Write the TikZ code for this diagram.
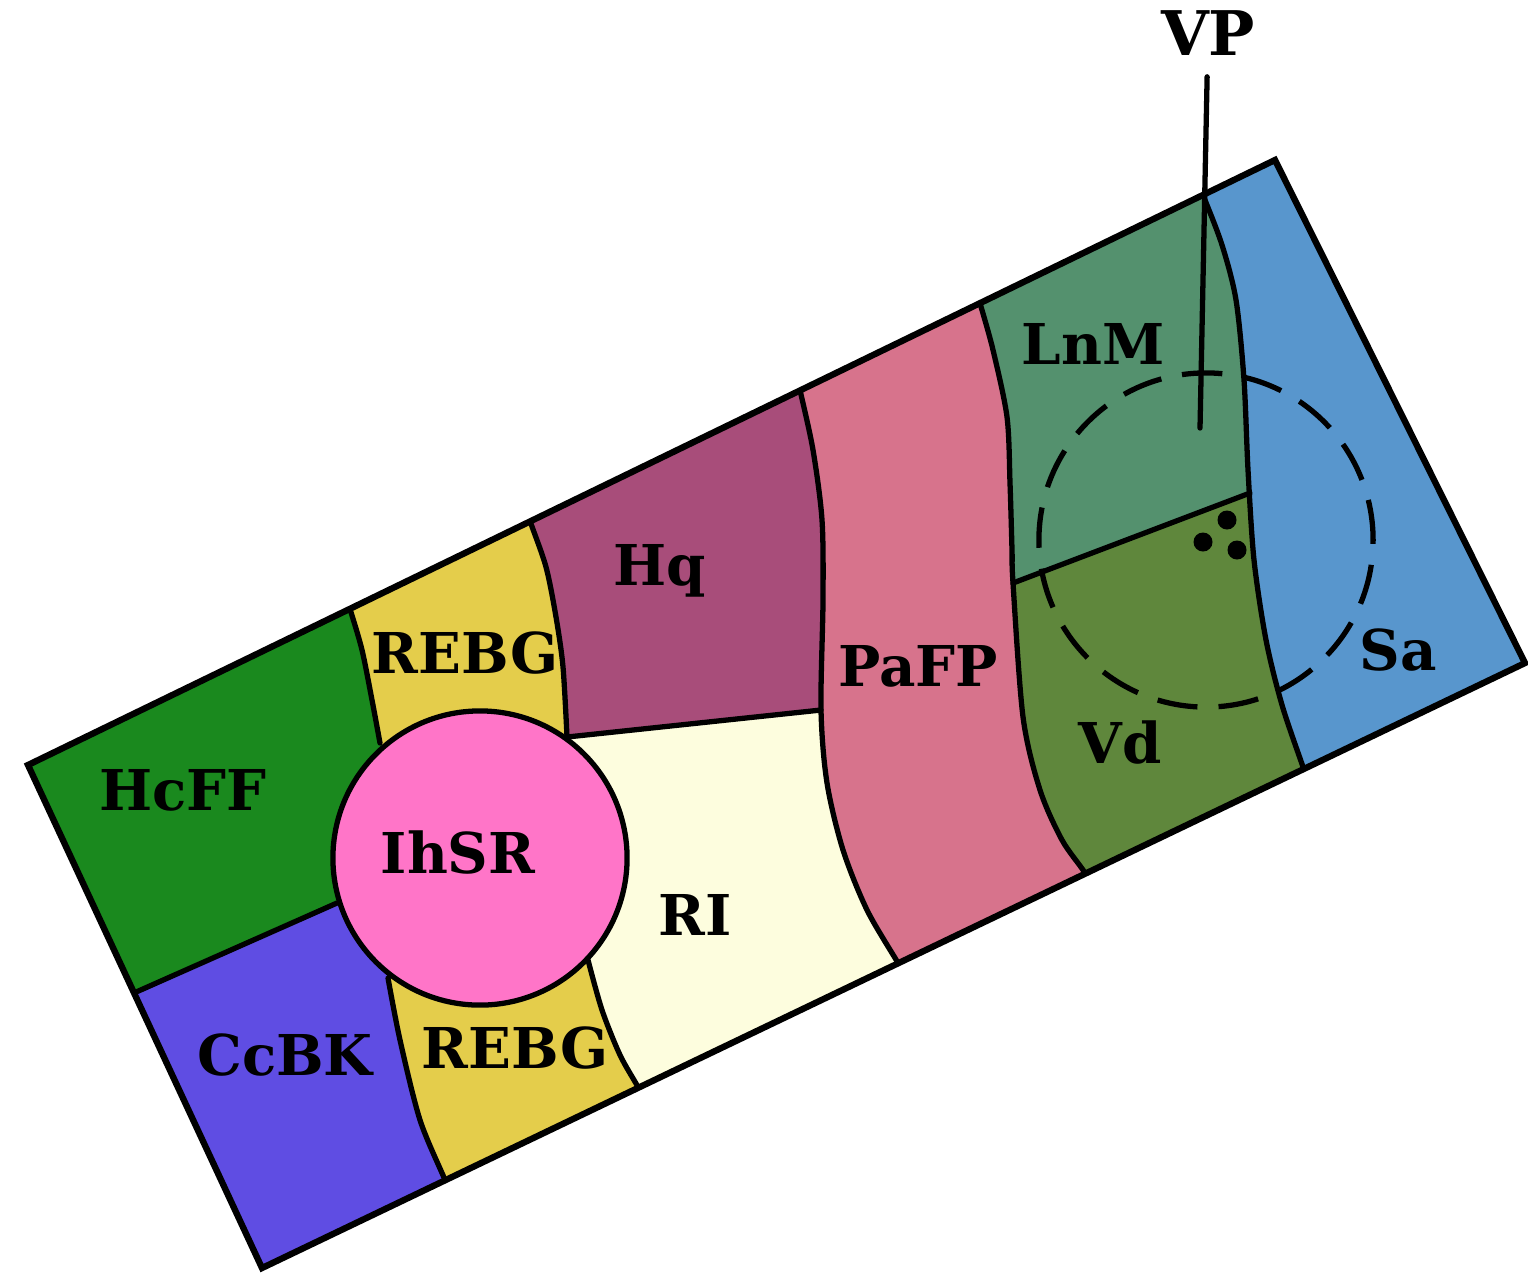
\documentclass[tikz,border=0pt]{standalone}
\usepackage{fontspec}
\setmainfont{DejaVu Serif}
\usepackage{tikz}
\usetikzlibrary{positioning}

\definecolor{grassgreen}{RGB}{26,137,30}
\definecolor{violetblue}{RGB}{95,77,227}
\definecolor{mustard}{RGB}{228,205,75}
\definecolor{candypink}{RGB}{255,117,200}
\definecolor{plum}{RGB}{168,77,122}
\definecolor{cream}{RGB}{253,253,222}
\definecolor{rosepink}{RGB}{215,115,140}
\definecolor{sage}{RGB}{84,145,110}
\definecolor{olive}{RGB}{95,135,60}
\definecolor{skyblue}{RGB}{88,150,205}

\begin{document}
\begin{tikzpicture}[x=0.01cm, y=-0.01cm,
    boundary/.style={line width=1.5pt, line join=round, line cap=round},
    rim/.style={line width=1.8pt, line join=miter},
    area/.style={font=\fontsize{16}{19}\selectfont\bfseries, anchor=base, inner sep=1pt}]
    \useasboundingbox (0,0) rectangle (1528,1287);

    % Corners of the strip
    \coordinate (tl) at (28,765);
    \coordinate (tr) at (1275,160);
    \coordinate (br) at (1525,663);
    \coordinate (bl) at (262,1268);

    \begin{scope}
    \clip (tl) -- (tr) -- (br) -- (bl) -- cycle;

    % Colour fields, left to right
    \fill[grassgreen] (0,0) rectangle (1528,1287);
    \fill[violetblue] (100,1008) -- (337,903) -- (480,858) -- (480,1500) -- (0,1500) -- cycle;
    \fill[mustard] (343,-200) -- plot[smooth] coordinates {(343,588) (350,609) (362,650) (372,700) (380,743)} -- (480,858)
        -- plot[smooth] coordinates {(388,978) (400,1040) (420,1120) (445,1180) (452,1200)} -- (2000,1500) -- (2000,-200) -- cycle;
    \fill[cream] (522,-200) -- plot[smooth] coordinates {(522,497) (530,521) (546,567) (556,617) (563,667) (567,737)} -- (480,858)
        -- plot[smooth] coordinates {(588,960) (602,1010) (620,1055) (638,1087) (645,1102)} -- (2000,1500) -- (2000,-200) -- cycle;
    \fill[plum] (522,-200) -- plot[smooth] coordinates {(522,497) (530,521) (546,567) (556,617) (563,667) (567,737)}
        -- (821,710) -- (1000,700) -- (1000,-200) -- cycle;
    \fill[rosepink] (795,-200) -- plot[smooth] coordinates {(795,368) (800,390) (813,450) (822,520) (823,600) (821,710) (827,783) (843,850) (867,910) (898,963) (910,985)}
        -- (2000,1500) -- (2000,-200) -- cycle;
    \fill[olive] (974,-200) -- plot[smooth] coordinates {(974,280) (980,303) (993,350) (1007,417) (1010,483) (1012,550) (1013,583) (1023,717) (1040,790) (1062,840) (1085,873) (1095,895)}
        -- (2000,1500) -- (2000,-200) -- cycle;
    \fill[sage] (974,-200) -- plot[smooth] coordinates {(974,280) (980,303) (993,350) (1007,417) (1010,483) (1012,550) (1013,583)}
        -- (1250,493) -- (1400,437) -- (1400,-200) -- cycle;
    \fill[skyblue] (1195,-200) -- plot[smooth] coordinates {(1195,176) (1203,195) (1222,245) (1236,300) (1244,380) (1248,470) (1254,560) (1266,640) (1282,705) (1303,767) (1310,788)}
        -- (2000,1500) -- (2000,-200) -- cycle;

    % Dividing lines
    \draw[boundary] plot[smooth] coordinates {(343,588) (350,609) (362,650) (372,700) (380,743)};
    \draw[boundary] (100,1008) -- (337,903);
    \draw[boundary] plot[smooth] coordinates {(388,978) (400,1040) (420,1120) (445,1180) (452,1200)};
    \draw[boundary] plot[smooth] coordinates {(522,497) (530,521) (546,567) (556,617) (563,667) (567,737)};
    \draw[boundary] plot[smooth] coordinates {(588,960) (602,1010) (620,1055) (638,1087) (645,1102)};
    \draw[boundary] (567,737) -- (821,710);
    \draw[boundary] plot[smooth] coordinates {(795,368) (800,390) (813,450) (822,520) (823,600) (821,710) (827,783) (843,850) (867,910) (898,963) (910,985)};
    \draw[boundary] plot[smooth] coordinates {(974,280) (980,303) (993,350) (1007,417) (1010,483) (1012,550) (1013,583) (1023,717) (1040,790) (1062,840) (1085,873) (1095,895)};
    \draw[boundary] (1013,583) -- (1250,493);
    \draw[boundary] plot[smooth] coordinates {(1195,176) (1203,195) (1222,245) (1236,300) (1244,380) (1248,470) (1254,560) (1266,640) (1282,705) (1303,767) (1310,788)};
    \end{scope}

    % Central round field
    \draw[boundary, fill=candypink] (480,858) circle (1.47cm);

    % Dashed ring and dots
    \draw[boundary, line cap=butt, dash pattern=on 11.5pt off 6pt] (1206,540) circle (1.67cm);
    \fill (1227,520) circle (0.095cm);
    \fill (1203,542) circle (0.095cm);
    \fill (1237,550) circle (0.095cm);

    % Outline
    \draw[rim] (tl) -- (tr) -- (br) -- (bl) -- cycle;

    % Pointer
    \node[font=\fontsize{17.5}{20}\selectfont\bfseries, anchor=base, inner sep=6pt] (vp) at (1208,55) {VP};
    \coordinate (vpfoot) at (1200,428);
    \draw[boundary] (vp) -- (vpfoot);

    % Names of the fields
    \node[area] (hcff) at (183,810) {HcFF};
    \node[area] (rebgtop) at (465,673) {REBG};
    \node[area] (hq) at (660,585) {Hq};
    \node[area] (ihsr) at (458,873) {IhSR};
    \node[area] (ri) at (695,935) {RI};
    \node[area] (pafp) at (918,686) {PaFP};
    \node[area] (lnm) at (1093,364) {LnM};
    \node[area] (vd) at (1120,763) {Vd};
    \node[area] (sa) at (1398,670) {Sa};
    \node[area] (ccbk) at (285,1075) {CcBK};
    \node[area] (rebgbot) at (515,1068) {REBG};
\end{tikzpicture}
\end{document}
